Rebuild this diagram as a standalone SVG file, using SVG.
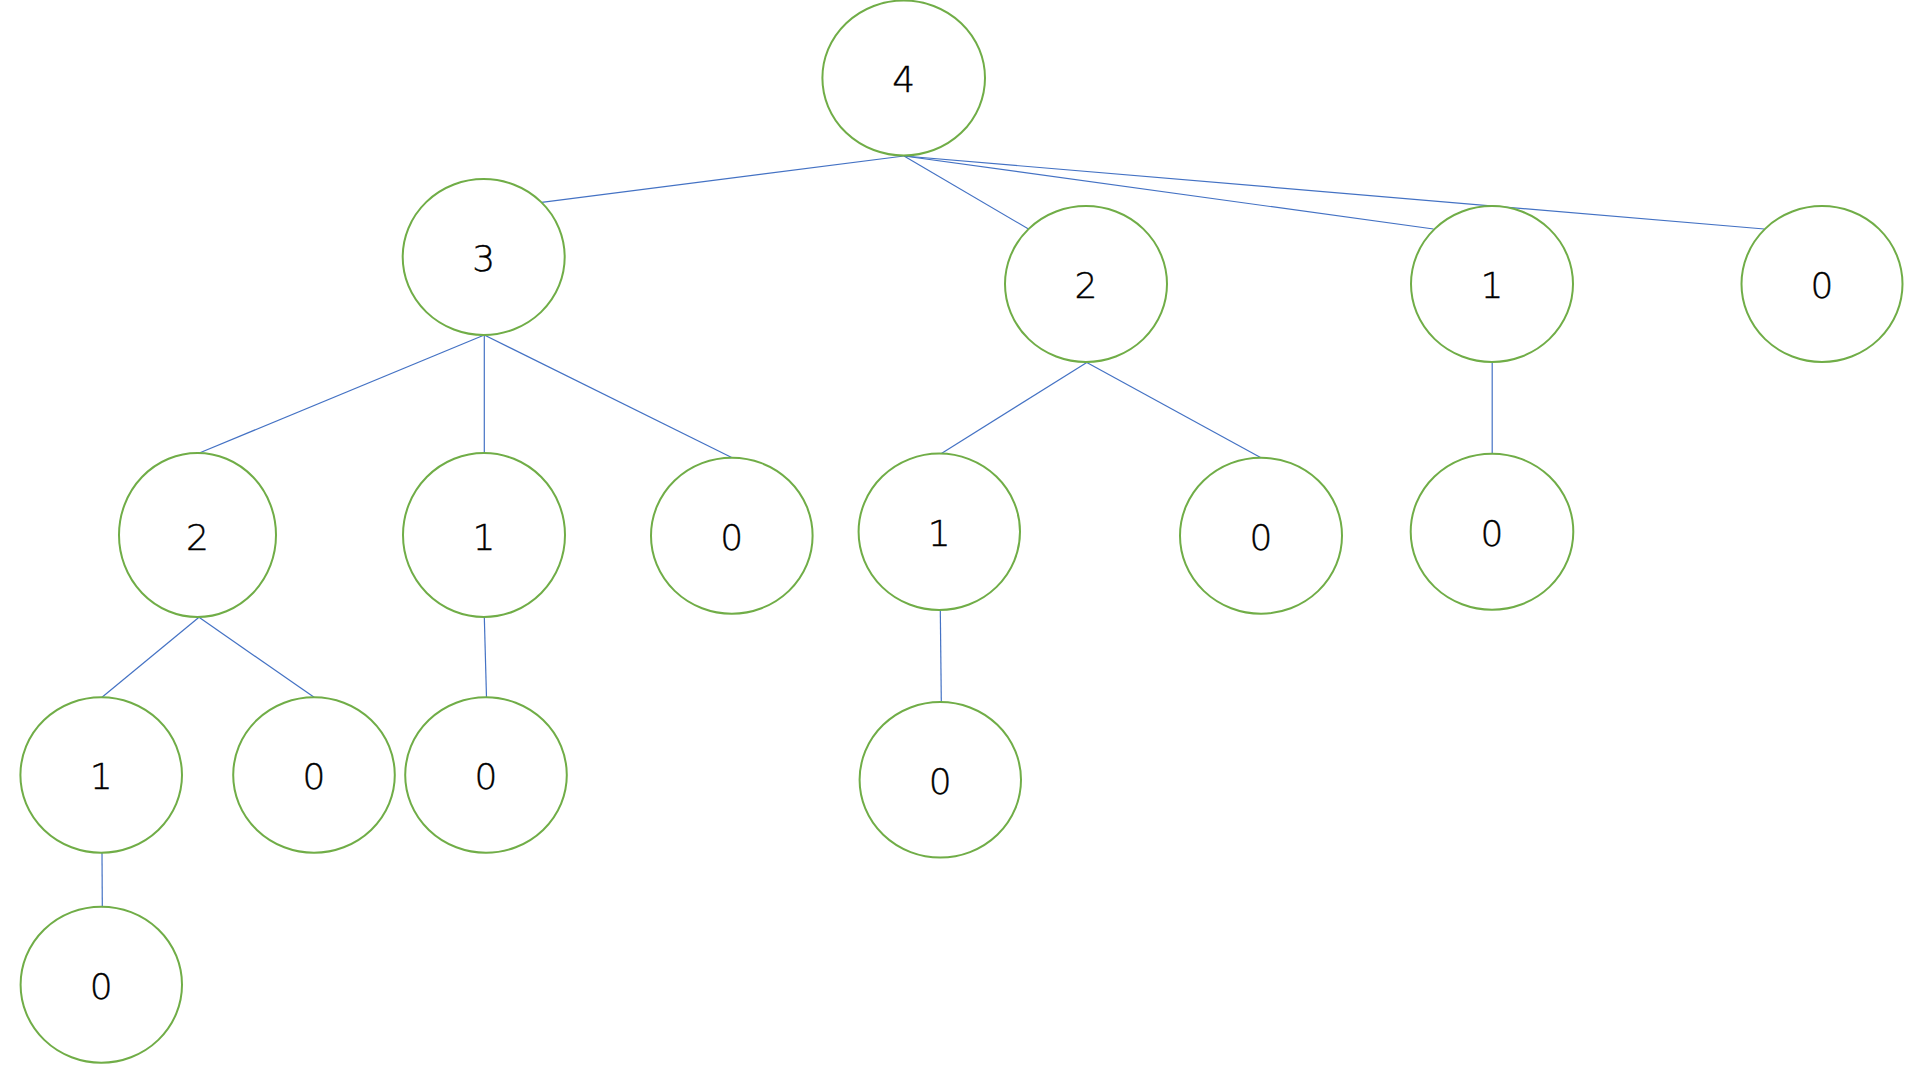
<svg xmlns="http://www.w3.org/2000/svg" width="1920" height="1080" viewBox="0 0 1920 1080">
<style>
.node ellipse{fill:#fff;stroke:#70AD47;stroke-width:2}
.node text{font-family:"DejaVu Sans","Noto Sans CJK SC",sans-serif;font-weight:200;font-size:36px;fill:#000;text-anchor:middle;stroke:#000;stroke-width:0.4}
#edges line{stroke:#4472C4;stroke-width:1.2}
</style>
<rect width="1920" height="1080" fill="#fff"/>
<g id="edges">
<line x1="904" y1="156" x2="541.7" y2="202.3"/>
<line x1="904" y1="156" x2="1028.5" y2="229"/>
<line x1="904" y1="156" x2="1433.5" y2="229"/>
<line x1="904" y1="156" x2="1764.3" y2="229"/>
<line x1="484.3" y1="335" x2="199.3" y2="453"/>
<line x1="484.3" y1="335" x2="484.3" y2="452.7"/>
<line x1="484.3" y1="335" x2="731.7" y2="457.5"/>
<line x1="1086.8" y1="362.5" x2="941" y2="453.7"/>
<line x1="1086.8" y1="362.5" x2="1261" y2="457.7"/>
<line x1="1492.2" y1="362" x2="1492.2" y2="453.7"/>
<line x1="199" y1="617.3" x2="102" y2="697.3"/>
<line x1="199" y1="617.3" x2="314.1" y2="697.3"/>
<line x1="484.3" y1="616.7" x2="486.5" y2="697.3"/>
<line x1="940.3" y1="610" x2="941.3" y2="702"/>
<line x1="102" y1="852.7" x2="102.3" y2="906.7"/>
</g>
<g id="n-root" class="node"><ellipse cx="903.7" cy="78" rx="81.3" ry="77.5"/><text x="903.7" y="92">4</text></g>
<g id="n-3" class="node"><ellipse cx="483.7" cy="257" rx="81" ry="78"/><text x="483.7" y="271">3</text></g>
<g id="n-2a" class="node"><ellipse cx="1086" cy="284" rx="81" ry="78"/><text x="1086" y="298">2</text></g>
<g id="n-1a" class="node"><ellipse cx="1492" cy="284" rx="81" ry="78"/><text x="1492" y="298">1</text></g>
<g id="n-0a" class="node"><ellipse cx="1822" cy="284" rx="80.5" ry="78"/><text x="1822" y="298">0</text></g>
<g id="n-2b" class="node"><ellipse cx="197.5" cy="535" rx="78.5" ry="82"/><text x="197.5" y="550">2</text></g>
<g id="n-1b" class="node"><ellipse cx="484" cy="535" rx="81" ry="82"/><text x="484" y="550">1</text></g>
<g id="n-0b" class="node"><ellipse cx="731.8" cy="535.7" rx="80.8" ry="78"/><text x="731.8" y="550">0</text></g>
<g id="n-1c" class="node"><ellipse cx="939.3" cy="531.8" rx="80.7" ry="78.2"/><text x="939.3" y="546">1</text></g>
<g id="n-0c" class="node"><ellipse cx="1261" cy="535.7" rx="81" ry="78"/><text x="1261" y="550">0</text></g>
<g id="n-0d" class="node"><ellipse cx="1492" cy="531.7" rx="81.3" ry="78"/><text x="1492" y="546">0</text></g>
<g id="n-1e" class="node"><ellipse cx="101.2" cy="775" rx="80.8" ry="77.7"/><text x="101.2" y="789">1</text></g>
<g id="n-0e" class="node"><ellipse cx="314" cy="775" rx="80.8" ry="77.7"/><text x="314" y="789">0</text></g>
<g id="n-0f" class="node"><ellipse cx="486" cy="775" rx="80.8" ry="77.7"/><text x="486" y="789">0</text></g>
<g id="n-0g" class="node"><ellipse cx="940.3" cy="779.8" rx="80.7" ry="77.8"/><text x="940.3" y="794">0</text></g>
<g id="n-0h" class="node"><ellipse cx="101.3" cy="984.7" rx="80.7" ry="78"/><text x="101.3" y="999">0</text></g>
</svg>
